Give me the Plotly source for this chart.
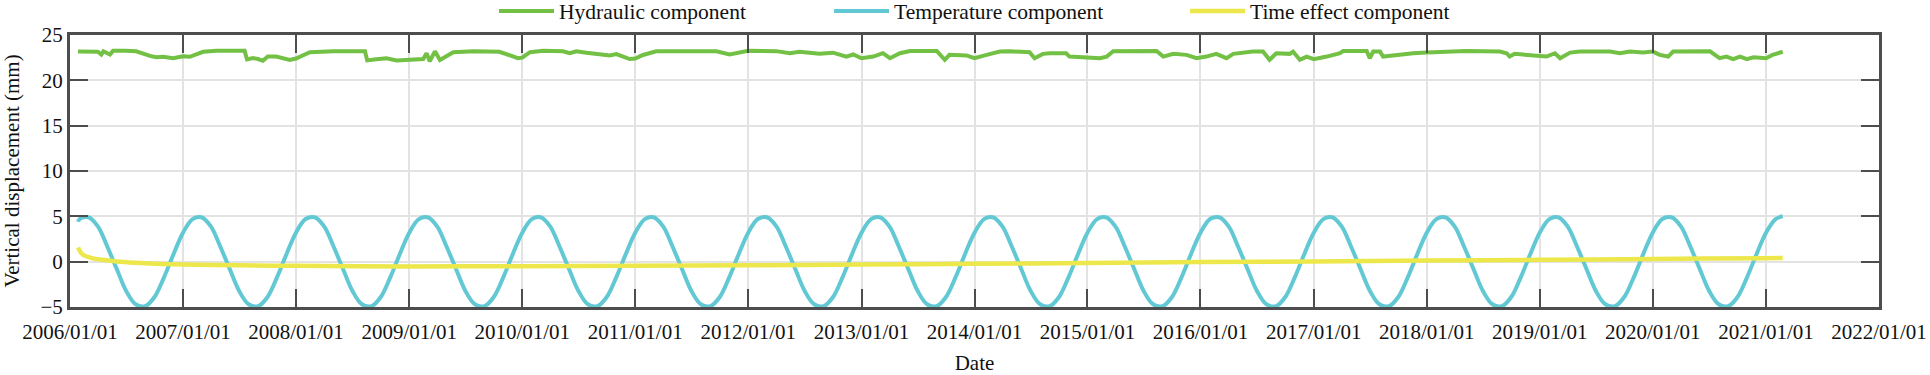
import pandas as pd
import plotly.graph_objects as go

# ---------------- data ----------------
hyd_dates = [
    "2006-01-27", "2006-02-23", "2006-04-01", "2006-04-12", "2006-04-19", "2006-05-10", "2006-05-20",
    "2006-07-01", "2006-08-03", "2006-09-16", "2006-10-07", "2006-10-29", "2006-11-30", "2007-01-01",
    "2007-01-23", "2007-03-07", "2007-04-19", "2007-06-12", "2007-07-19", "2007-07-27", "2007-08-15",
    "2007-08-31", "2007-09-16", "2007-10-02", "2007-10-29", "2007-12-12", "2008-01-01", "2008-02-15",
    "2008-05-01", "2008-08-11", "2008-08-18", "2008-09-17", "2008-10-19", "2008-11-21", "2009-01-03",
    "2009-02-15", "2009-02-26", "2009-03-08", "2009-03-25", "2009-04-10", "2009-05-23", "2009-07-27",
    "2009-10-19", "2009-11-21", "2009-12-18", "2010-01-01", "2010-01-26", "2010-03-10", "2010-05-13",
    "2010-06-03", "2010-06-25", "2010-07-27", "2010-08-28", "2010-10-11", "2010-11-01", "2010-12-14",
    "2011-01-01", "2011-01-26", "2011-03-10", "2011-06-15", "2011-09-20", "2011-11-02", "2011-12-02",
    "2012-01-01", "2012-04-01", "2012-05-14", "2012-06-15", "2012-08-18", "2012-10-01", "2012-11-13",
    "2012-12-05", "2013-01-01", "2013-02-08", "2013-03-11", "2013-04-03", "2013-05-05", "2013-06-07",
    "2013-09-01", "2013-09-27", "2013-10-12", "2013-12-06", "2014-01-01", "2014-02-09", "2014-03-24",
    "2014-04-25", "2014-06-28", "2014-07-14", "2014-08-10", "2014-09-01", "2014-10-24", "2014-11-04",
    "2014-12-06", "2015-01-01", "2015-02-10", "2015-03-04", "2015-03-25", "2015-08-12", "2015-08-23",
    "2015-09-03", "2015-10-05", "2015-11-17", "2015-12-19", "2016-01-01", "2016-01-20", "2016-02-21",
    "2016-03-25", "2016-04-16", "2016-06-18", "2016-07-21", "2016-08-11", "2016-09-02", "2016-10-15",
    "2016-10-26", "2016-11-17", "2016-12-09", "2017-01-01", "2017-02-12", "2017-03-05", "2017-03-27",
    "2017-04-06", "2017-06-21", "2017-07-01", "2017-07-12", "2017-08-03", "2017-08-13", "2017-10-06",
    "2017-11-18", "2018-01-01", "2018-03-16", "2018-05-08", "2018-07-01", "2018-08-25", "2018-09-16",
    "2018-09-26", "2018-10-12", "2018-11-19", "2018-12-21", "2019-01-01", "2019-01-23", "2019-02-19",
    "2019-03-08", "2019-04-09", "2019-05-11", "2019-08-16", "2019-09-17", "2019-10-19", "2019-12-01",
    "2020-01-01", "2020-01-24", "2020-02-20", "2020-03-07", "2020-07-04", "2020-07-15", "2020-08-04",
    "2020-08-26", "2020-09-17", "2020-10-09", "2020-10-31", "2020-11-22", "2021-01-01", "2021-01-22",
    "2021-02-24",
]
hyd_values = [
    23.17, 23.20, 23.15, 22.85, 23.20, 22.85, 23.25,
    23.25, 23.20, 22.70, 22.55, 22.60, 22.45, 22.65,
    22.60, 23.15, 23.25, 23.25, 23.25, 22.30, 22.45,
    22.35, 22.15, 22.62, 22.62, 22.26, 22.40, 23.10,
    23.20, 23.20, 22.20, 22.33, 22.44, 22.20, 22.33,
    22.35, 23.00, 22.10, 23.20, 22.25, 23.10, 23.20,
    23.15, 22.80, 22.45, 22.50, 23.10, 23.25, 23.20,
    23.00, 23.20, 23.05, 22.95, 22.75, 22.90, 22.35,
    22.40, 22.80, 23.20, 23.25, 23.20, 22.85, 23.10,
    23.25, 23.22, 23.00, 23.15, 22.92, 23.05, 22.62,
    22.85, 22.44, 22.62, 23.00, 22.44, 22.99, 23.24,
    23.24, 22.26, 22.81, 22.75, 22.44, 22.81, 23.17,
    23.20, 23.10, 22.44, 22.92, 22.99, 22.99, 22.62,
    22.55, 22.44, 22.44, 22.62, 23.20, 23.24, 22.99,
    22.62, 22.92, 22.81, 22.44, 22.50, 22.62, 22.92,
    22.44, 22.92, 23.17, 23.17, 22.26, 22.99, 22.92,
    23.17, 22.26, 22.62, 22.33, 22.62, 22.81, 22.99,
    23.24, 23.24, 22.44, 23.17, 23.17, 22.62, 22.81,
    22.99, 23.06, 23.20, 23.24, 23.20, 23.17, 22.99,
    22.62, 22.92, 22.81, 22.81, 22.75, 22.62, 22.99,
    22.44, 23.06, 23.17, 23.17, 22.99, 23.17, 23.06,
    23.17, 22.81, 22.62, 23.17, 23.20, 22.92, 22.44,
    22.62, 22.33, 22.62, 22.33, 22.55, 22.44, 22.81,
    23.15,
]

# temperature component: first point, then the 1st of every month Feb 2006 .. Feb 2021, then last point
temp_first_date = "2006-01-27"
temp_last_date = "2021-02-24"
temp_values = (
    [4.4]
    + [4.7, 4.9, 3.9, 1.7, -0.8, -3.2, -4.7, -4.9, -3.9, -1.7, 0.8]          # 2006 Feb-Dec
    + [3.2, 4.7, 4.9, 3.9, 1.7, -0.8, -3.2, -4.7, -4.9, -3.9, -1.7, 0.8]     # 2007
    + [3.2, 4.7, 4.9, 3.9, 1.7, -0.8, -3.2, -4.7, -4.9, -3.9, -1.7, 0.8]     # 2008
    + [3.2, 4.7, 4.9, 3.9, 1.7, -0.8, -3.2, -4.7, -4.9, -3.9, -1.7, 0.8]     # 2009
    + [3.2, 4.7, 4.9, 3.9, 1.7, -0.8, -3.2, -4.7, -4.9, -3.9, -1.7, 0.8]     # 2010
    + [3.2, 4.7, 4.9, 3.9, 1.7, -0.8, -3.2, -4.7, -4.9, -3.9, -1.7, 0.8]     # 2011
    + [3.2, 4.7, 4.9, 3.9, 1.7, -0.8, -3.2, -4.7, -4.9, -3.9, -1.7, 0.8]     # 2012
    + [3.2, 4.7, 4.9, 3.9, 1.7, -0.8, -3.2, -4.7, -4.9, -3.9, -1.7, 0.8]     # 2013
    + [3.2, 4.7, 4.9, 3.9, 1.7, -0.8, -3.2, -4.7, -4.9, -3.9, -1.7, 0.8]     # 2014
    + [3.2, 4.7, 4.9, 3.9, 1.7, -0.8, -3.2, -4.7, -4.9, -3.9, -1.7, 0.8]     # 2015
    + [3.2, 4.7, 4.9, 3.9, 1.7, -0.8, -3.2, -4.7, -4.9, -3.9, -1.7, 0.8]     # 2016
    + [3.2, 4.7, 4.9, 3.9, 1.7, -0.8, -3.2, -4.7, -4.9, -3.9, -1.7, 0.8]     # 2017
    + [3.2, 4.7, 4.9, 3.9, 1.7, -0.8, -3.2, -4.7, -4.9, -3.9, -1.7, 0.8]     # 2018
    + [3.2, 4.7, 4.9, 3.9, 1.7, -0.8, -3.2, -4.7, -4.9, -3.9, -1.7, 0.8]     # 2019
    + [3.2, 4.7, 4.9, 3.9, 1.7, -0.8, -3.2, -4.7, -4.9, -3.9, -1.7, 0.8]     # 2020
    + [3.2, 4.7]                                                              # 2021 Jan-Feb
    + [5.0]
)
temp_dates = (
    [temp_first_date]
    + [d.strftime("%Y-%m-%d") for d in pd.date_range("2006-02-01", "2021-02-01", freq="MS")]
    + [temp_last_date]
)

time_dates = [
    "2006-01-27", "2006-02-05", "2006-02-15", "2006-03-10", "2006-04-15", "2006-06-01",
    "2006-08-01", "2006-10-01", "2007-01-01", "2007-07-01", "2008-01-01", "2009-01-01",
    "2010-01-01", "2011-01-01", "2012-01-01", "2013-01-01", "2014-01-01", "2015-01-01",
    "2016-01-01", "2017-01-01", "2018-01-01", "2019-01-01", "2020-01-01", "2021-01-01",
    "2021-02-24",
]
time_values = [
    1.55, 1.0, 0.7, 0.42, 0.2, 0.02,
    -0.12, -0.22, -0.3, -0.4, -0.46, -0.52,
    -0.5, -0.45, -0.4, -0.32, -0.24, -0.15,
    -0.05, 0.03, 0.12, 0.2, 0.3, 0.38,
    0.4,
]

x_tick_dates = [f"{y}-01-01" for y in range(2006, 2023)]
x_tick_labels = [f"{y}/01/01" for y in range(2006, 2023)]
y_ticks = [-5, 0, 5, 10, 15, 20, 25]

series_names = ["Hydraulic component", "Temperature component", "Time effect component"]
series_colors = ["#72C044", "#62C9D4", "#ECE84C"]

# ---------------- figure ----------------
FONT = "Liberation Serif"
W, H = 1930, 375
fig = go.Figure()
fig.add_trace(go.Scatter(x=hyd_dates, y=hyd_values, mode="lines", name=series_names[0],
                         legend="legend",
                         line=dict(color=series_colors[0], width=4)))
fig.add_trace(go.Scatter(x=temp_dates, y=temp_values, mode="lines", name=series_names[1],
                         legend="legend2",
                         line=dict(color=series_colors[1], width=4, shape="spline", smoothing=1.0)))
fig.add_trace(go.Scatter(x=time_dates, y=time_values, mode="lines", name=series_names[2],
                         legend="legend3",
                         line=dict(color=series_colors[2], width=4.5, shape="spline", smoothing=0.8)))

axis_common = dict(
    showline=True, linecolor="#4D4D4D", linewidth=3, mirror="ticks",
    ticks="inside", ticklen=18, tickwidth=2, tickcolor="#4D4D4D",
    showgrid=True, gridcolor="#E3E3E3", gridwidth=1.5, zeroline=False,
    automargin=False,
    tickfont=dict(family=FONT, size=21, color="#111111"),
)

def legend_at(x_px):
    return dict(orientation="h", xref="container", yref="container",
                x=x_px / W, xanchor="left", y=1 - 11 / H, yanchor="middle",
                font=dict(family=FONT, size=21.5, color="#111111"),
                itemwidth=55, bgcolor="rgba(0,0,0,0)", borderwidth=0)

fig.update_layout(
    width=W, height=H,
    margin=dict(l=70, r=51, t=35, b=68, autoexpand=False),
    paper_bgcolor="white", plot_bgcolor="white",
    font=dict(family=FONT, size=21, color="#111111"),
    showlegend=True,
    legend=legend_at(494),
    legend2=legend_at(829),
    legend3=legend_at(1185),
    xaxis=dict(type="date", range=["2006-01-01", "2022-01-01"],
               tickvals=x_tick_dates, ticktext=x_tick_labels, ticklabelstandoff=4,
               title=dict(text="Date", font=dict(family=FONT, size=21), standoff=16),
               **axis_common),
    yaxis=dict(range=[-5, 25], tickvals=y_ticks,
               title=dict(text="Vertical displacement (mm)", font=dict(family=FONT, size=21), standoff=22),
               **axis_common),
)

# the page's default 8px body margin would shift the whole figure; remove it
fig.write_html("out.html", config={"displayModeBar": False},
               post_script="document.body.style.margin='0px';")
